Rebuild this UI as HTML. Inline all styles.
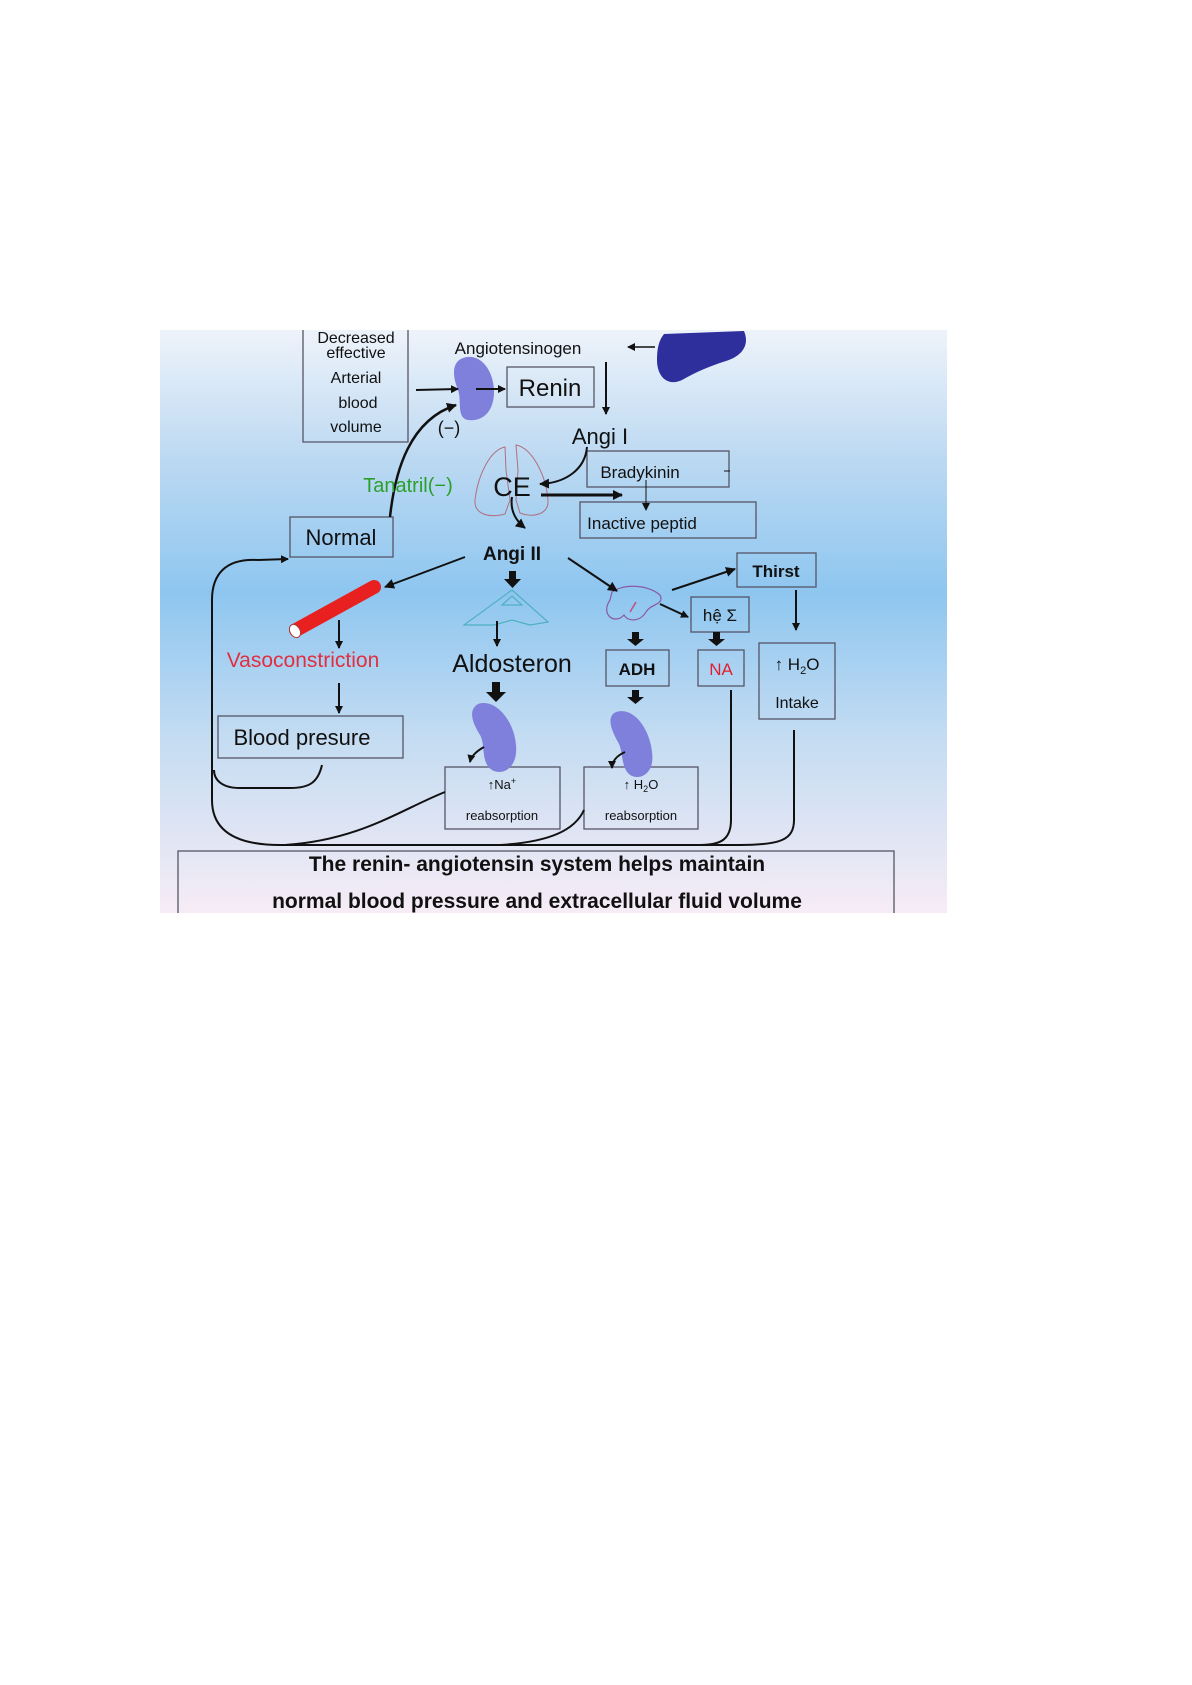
<!DOCTYPE html>
<html><head><meta charset="utf-8"><style>
html,body{margin:0;padding:0;background:#fff;}
svg{display:block;}
text{font-family:"Liberation Sans",sans-serif;}
</style></head><body>
<svg width="1192" height="1685" viewBox="0 0 1192 1685" xmlns="http://www.w3.org/2000/svg">
<defs>
<linearGradient id="bg" x1="0" y1="0" x2="0" y2="1">
<stop offset="0" stop-color="#eef3fa"/>
<stop offset="0.22" stop-color="#bcd9f2"/>
<stop offset="0.45" stop-color="#8ec6f0"/>
<stop offset="0.7" stop-color="#c4dcf2"/>
<stop offset="1" stop-color="#f6ecf6"/>
</linearGradient>
<marker id="a" markerWidth="8" markerHeight="8" refX="7" refY="4" orient="auto" markerUnits="userSpaceOnUse"><path d="M0,0 L8,4 L0,8 z" fill="#111"/></marker>
<marker id="am" markerWidth="10" markerHeight="10" refX="9" refY="5" orient="auto" markerUnits="userSpaceOnUse"><path d="M0,0 L10,5 L0,10 z" fill="#111"/></marker>
</defs>
<rect x="160" y="330" width="787" height="583" fill="url(#bg)"/>
<g fill="none" stroke="#556" stroke-width="1.3">
<path d="M303,330 V442 H408 V330"/>
<rect x="507" y="367" width="87" height="40"/>
<rect x="587" y="451" width="142" height="36"/>
<rect x="580" y="502" width="176" height="36"/>
<rect x="290" y="517" width="103" height="40"/>
<rect x="737" y="553" width="79" height="34"/>
<rect x="691" y="597" width="58" height="35"/>
<rect x="606" y="650" width="63" height="36"/>
<rect x="698" y="650" width="46" height="36"/>
<rect x="759" y="643" width="76" height="76"/>
<rect x="218" y="716" width="185" height="42"/>
<rect x="445" y="767" width="115" height="62"/>
<rect x="584" y="767" width="114" height="62"/>
<rect x="178" y="851" width="716" height="70"/>
</g>
<rect x="160" y="913" width="787" height="20" fill="#fff"/>
<!-- shapes -->
<path d="M463,358 C480,352 494,370 494,392 C494,412 482,422 468,420 C456,418 462,400 458,390 C452,375 452,362 463,358z" fill="#7f7fdc"/>
<path d="M664,334 L744,331 C750,345 742,356 726,361 C710,366 696,372 682,380 C667,387 657,376 657,360 C657,348 659,340 664,334z" fill="#2e2e9c"/>
<path d="M478,704 C495,698 514,720 516,745 C518,766 505,775 494,771 C480,765 486,745 480,735 C472,722 468,710 478,704z" fill="#7f7fdc"/>
<path d="M616,712 C634,706 650,730 652,752 C655,772 642,780 632,776 C620,770 624,752 618,742 C610,728 607,716 616,712z" fill="#7f7fdc"/>
<!-- lungs -->
<path d="M505,447 C490,450 478,475 475,500 C474,515 490,518 505,514 L510,500 L506,470 z" fill="none" stroke="#b07080" stroke-width="1"/>
<path d="M516,445 C532,448 546,475 548,500 C549,515 532,518 520,513 L516,500 L518,470 z" fill="none" stroke="#b07080" stroke-width="1"/>
<!-- red tube -->
<line x1="296" y1="630" x2="374" y2="587" stroke="#e82020" stroke-width="14" stroke-linecap="round"/>
<ellipse cx="295" cy="631" rx="5" ry="7" fill="#fff" stroke="#a33" transform="rotate(-30 295 631)"/>
<!-- adrenal -->
<path d="M512,590 L548,622 L530,625 L512,620 L494,625 L464,625 z" fill="none" stroke="#50b0c0" stroke-width="1.2"/>
<path d="M502,605 L512,596 L522,605 z" fill="none" stroke="#50b0c0" stroke-width="1.2"/>
<!-- pituitary -->
<path d="M612,592 C625,583 648,585 660,595 C665,605 650,604 646,612 C640,622 628,622 624,615 C615,625 600,615 610,600z" fill="none" stroke="#8a5aa0" stroke-width="1.2"/>
<line x1="630" y1="612" x2="636" y2="602" stroke="#c05080" stroke-width="1.5"/>
<!-- arrows -->
<g stroke="#111" stroke-width="2" fill="none">
<line x1="416" y1="390" x2="458" y2="389" marker-end="url(#a)"/>
<line x1="476" y1="389" x2="505" y2="389" marker-end="url(#a)"/>
<line x1="655" y1="347" x2="628" y2="347" marker-end="url(#a)" stroke-width="1.5"/>
<line x1="606" y1="362" x2="606" y2="414" marker-end="url(#a)"/>
<path d="M587,447 C585,470 565,483 540,484" marker-end="url(#am)"/>
<line x1="541" y1="495" x2="622" y2="495" marker-end="url(#am)" stroke-width="3"/>
<line x1="646" y1="480" x2="646" y2="510" stroke-width="1" marker-end="url(#a)"/>
<line x1="730" y1="471" x2="724" y2="471" stroke-width="1"/>
<path d="M390,517 C395,470 410,420 456,405" marker-end="url(#am)" stroke-width="2.5"/>
<path d="M512,497 C510,510 515,520 525,528" marker-end="url(#am)"/>
<line x1="465" y1="557" x2="385" y2="587" marker-end="url(#am)"/>
<line x1="568" y1="558" x2="617" y2="591" marker-end="url(#am)"/>
<line x1="672" y1="590" x2="735" y2="569" marker-end="url(#am)"/>
<line x1="660" y1="604" x2="688" y2="617" marker-end="url(#a)"/>
<line x1="796" y1="590" x2="796" y2="630" marker-end="url(#a)"/>
<line x1="339" y1="620" x2="339" y2="648" marker-end="url(#a)"/>
<line x1="339" y1="683" x2="339" y2="713" marker-end="url(#a)"/>
<line x1="497" y1="621" x2="497" y2="646" marker-end="url(#a)"/>
<line x1="258" y1="560" x2="288" y2="559" marker-end="url(#a)"/>
<path d="M258,560 C225,558 212,575 212,600 L212,800 C212,830 235,845 280,845 L700,845" />
<path d="M322,765 C318,782 310,788 290,788 L240,788 C222,788 214,780 214,770"/>
<path d="M445,792 C400,810 360,840 285,845"/>
<path d="M584,810 C575,830 550,842 500,845"/>
<path d="M731,690 L731,820 C731,840 720,845 700,845"/>
<path d="M794,730 L794,820 C794,840 780,845 740,845 L700,845"/>
<path d="M484,747 C475,752 471,757 470,762" marker-end="url(#a)"/>
<path d="M625,752 C616,756 612,762 612,768" marker-end="url(#a)"/>
</g>
<!-- thick block arrows -->
<g fill="#111">
<path d="M509,571 h7 v8 h5 l-8.5,9 l-8.5,-9 h5z"/>
<path d="M492,682 h8 v10 h6 l-10,10 l-10,-10 h6z"/>
<path d="M632,632 h7 v7 h5 l-8.5,7 l-8.5,-7 h5z"/>
<path d="M713,632 h7 v7 h5 l-8.5,7 l-8.5,-7 h5z"/>
<path d="M632,690 h7 v7 h5 l-8.5,7 l-8.5,-7 h5z"/>
</g>
<!-- text -->
<g fill="#111" text-anchor="middle">
<text x="356" y="343" font-size="16">Decreased</text>
<text x="356" y="358" font-size="16">effective</text>
<text x="356" y="383" font-size="16">Arterial</text>
<text x="358" y="408" font-size="16">blood</text>
<text x="356" y="432" font-size="16">volume</text>
<text x="518" y="354" font-size="17">Angiotensinogen</text>
<text x="550" y="396" font-size="24">Renin</text>
<text x="449" y="434" font-size="18">(−)</text>
<text x="600" y="444" font-size="22">Angi I</text>
<text x="640" y="478" font-size="17">Bradykinin</text>
<text x="642" y="529" font-size="17">Inactive peptid</text>
<text x="512" y="496" font-size="27">CE</text>
<text x="408" y="492" font-size="20" fill="#2aa02a">Tanatril(−)</text>
<text x="341" y="545" font-size="22">Normal</text>
<text x="512" y="560" font-size="19" font-weight="bold">Angi II</text>
<text x="776" y="577" font-size="17" font-weight="bold">Thirst</text>
<text x="720" y="621" font-size="17">hệ Σ</text>
<text x="303" y="667" font-size="21" fill="#e03040">Vasoconstriction</text>
<text x="512" y="672" font-size="25">Aldosteron</text>
<text x="637" y="675" font-size="17" font-weight="bold">ADH</text>
<text x="721" y="675" font-size="17" fill="#e02030">NA</text>
<text x="797" y="670" font-size="17">↑ H<tspan font-size="11" dy="4">2</tspan><tspan dy="-4">O</tspan></text>
<text x="797" y="708" font-size="16">Intake</text>
<text x="302" y="745" font-size="22">Blood presure</text>
<text x="502" y="789" font-size="13">↑Na<tspan font-size="9" dy="-5">+</tspan></text>
<text x="502" y="820" font-size="13">reabsorption</text>
<text x="641" y="789" font-size="13">↑ H<tspan font-size="9" dy="3">2</tspan><tspan dy="-3">O</tspan></text>
<text x="641" y="820" font-size="13">reabsorption</text>
<text x="537" y="871" font-size="21" font-weight="bold">The renin- angiotensin system helps maintain</text>
<text x="537" y="908" font-size="21" font-weight="bold">normal blood pressure and extracellular fluid volume</text>
</g>
</svg>
</body></html>
